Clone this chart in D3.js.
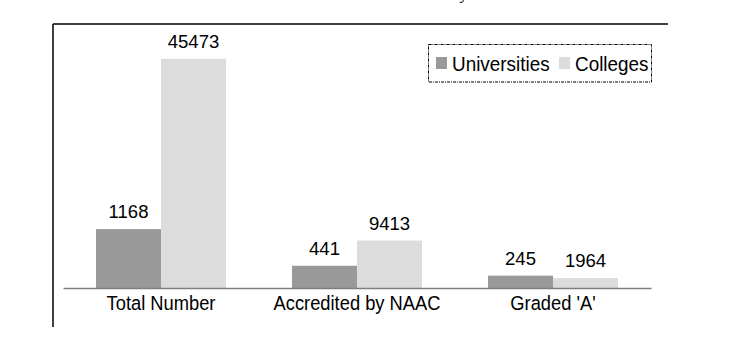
<!DOCTYPE html>
<html>
<head>
<meta charset="utf-8">
<script src="https://cdn.jsdelivr.net/npm/d3@7"></script>
<style>
  body { margin: 0; background: #fff; }
  text { font-family: "Liberation Sans", Arial, sans-serif; fill: #000; }
</style>
</head>
<body>
<div id="container"></div>
<script>
/* DATA */
const categories = ["Total Number", "Accredited by NAAC", "Graded 'A'"];
const universities = [1168, 441, 245];
const colleges = [45473, 9413, 1964];
const seriesNames = ["Universities", "Colleges"];
const seriesColors = ["#999999", "#dcdcdc"];

/* CONSTANTS */
const width = 735, height = 340;
const plot = { left: 63, right: 651, top: 36, bottom: 288 };

const svg = d3.select("#container")
  .append("svg")
  .attr("width", width)
  .attr("height", height);

// cropped title, only the tail of a letter shows at the top
svg.append("text")
  .attr("x", 461)
  .attr("y", -1)
  .style("font-family", "'Liberation Serif', serif")
  .style("font-style", "italic")
  .style("font-size", "16px")
  .text("y");

// frame (top and left edges only visible)
svg.append("line")
  .attr("x1", 53).attr("x2", 668)
  .attr("y1", 24).attr("y2", 24)
  .attr("stroke", "#000").attr("stroke-width", 1.5);
svg.append("line")
  .attr("x1", 53).attr("x2", 53)
  .attr("y1", 24).attr("y2", 327)
  .attr("stroke", "#000").attr("stroke-width", 1.5);

/* SCALES */
const x0 = d3.scaleBand()
  .domain(categories)
  .range([plot.left, plot.right])
  .paddingInner(0.337)
  .paddingOuter(0.1685);

const x1 = d3.scaleBand()
  .domain(seriesNames)
  .range([0, x0.bandwidth()]);

// primary axis for universities, secondary axis for colleges
const yUni = d3.scaleLinear().domain([0, 5000]).range([plot.bottom, plot.top]);
const yCol = d3.scaleLinear().domain([0, 50000]).range([plot.bottom, plot.top]);

const rows = categories.map((c, i) => ({
  cat: c,
  vals: [
    { name: seriesNames[0], value: universities[i], y: yUni },
    { name: seriesNames[1], value: colleges[i], y: yCol }
  ]
}));

/* BARS */
const groups = svg.selectAll("g.group")
  .data(rows)
  .join("g")
  .attr("class", "group")
  .attr("transform", d => `translate(${x0(d.cat)},0)`);

groups.selectAll("rect")
  .data(d => d.vals)
  .join("rect")
  .attr("x", d => x1(d.name))
  .attr("width", x1.bandwidth())
  .attr("y", d => d.y(d.value))
  .attr("height", d => plot.bottom - d.y(d.value))
  .attr("fill", (d, i) => seriesColors[i]);

groups.selectAll("text.value")
  .data(d => d.vals)
  .join("text")
  .attr("class", "value")
  .attr("text-anchor", "middle")
  .attr("transform", d => `translate(${x1(d.name) + x1.bandwidth() / 2},${d.y(d.value) - 11}) scale(1.03,1)`)
  .style("font-size", "18px")
  .text(d => d.value);

/* X AXIS */
const xAxis = svg.append("g")
  .attr("transform", `translate(0,${plot.bottom})`)
  .call(d3.axisBottom(x0).tickSize(0).tickSizeOuter(0).tickPadding(0));
xAxis.select(".domain")
  .attr("stroke", "#7f7f7f")
  .attr("stroke-width", 1.5);
xAxis.selectAll(".tick text").remove();
xAxis.selectAll(".tick")
  .append("text")
  .attr("text-anchor", "middle")
  .attr("transform", "translate(0,22) scale(0.94,1)")
  .style("font-size", "19.5px")
  .text(d => d);

/* LEGEND */
const legend = svg.append("g");
legend.append("rect")
  .attr("x", 428.5).attr("y", 44.5)
  .attr("width", 223).attr("height", 37.5)
  .attr("fill", "none")
  .attr("stroke", "#000")
  .attr("stroke-width", 1)
  .attr("stroke-dasharray", "3,1,1,1");

const legendX = [436, 559];
const items = legend.selectAll("g.item")
  .data(seriesNames)
  .join("g")
  .attr("class", "item")
  .attr("transform", (d, i) => `translate(${legendX[i]},0)`);
items.append("rect")
  .attr("x", 0).attr("y", 57)
  .attr("width", 11).attr("height", 12)
  .attr("fill", (d, i) => seriesColors[i]);
items.append("text")
  .attr("transform", "translate(16,70.5) scale(0.9,1)")
  .style("font-size", "21px")
  .text(d => d);
</script>
</body>
</html>
